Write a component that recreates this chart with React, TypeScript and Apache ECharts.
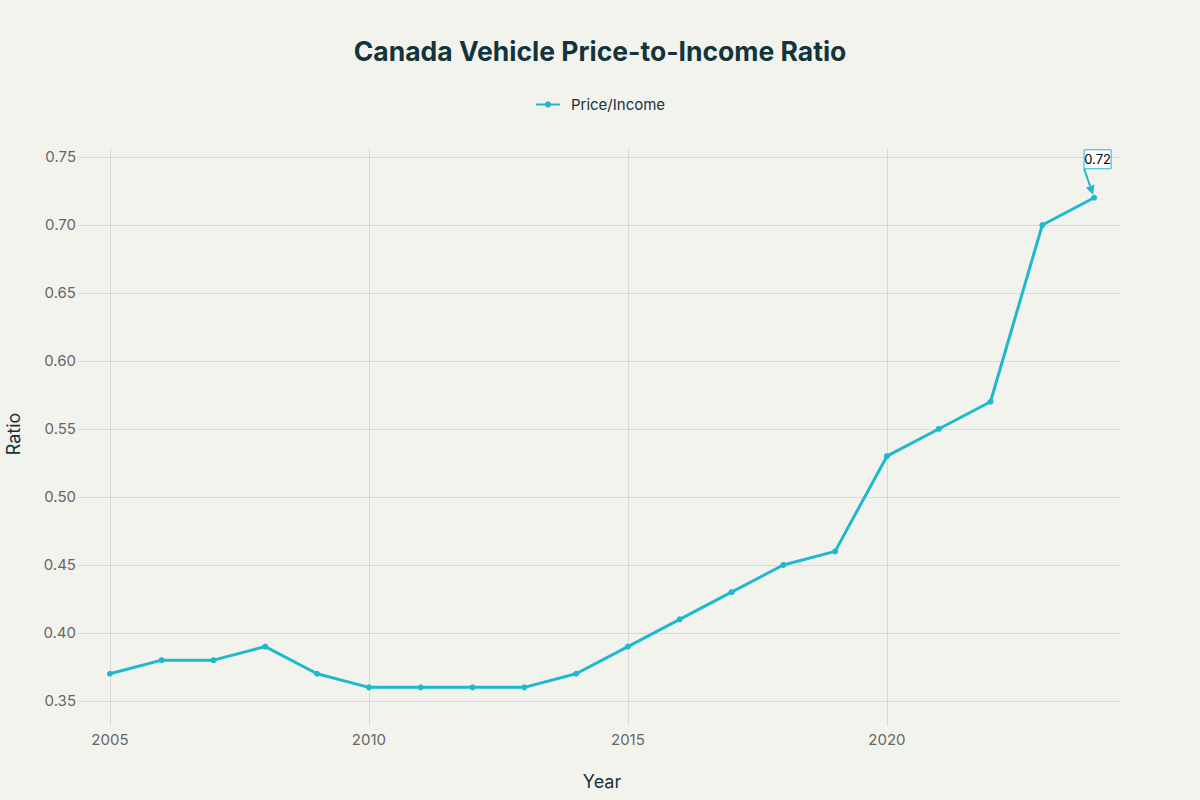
import { useEffect, useRef } from 'react'
import * as echarts from 'echarts'

const years = [
  2005, 2006, 2007, 2008, 2009, 2010, 2011, 2012, 2013, 2014,
  2015, 2016, 2017, 2018, 2019, 2020, 2021, 2022, 2023, 2024,
]
const ratios = [
  0.37, 0.38, 0.38, 0.39, 0.37, 0.36, 0.36, 0.36, 0.36, 0.37,
  0.39, 0.41, 0.43, 0.45, 0.46, 0.53, 0.55, 0.57, 0.7, 0.72,
]
const yearTicks = [2005, 2010, 2015, 2020]
const ratioTicks = [0.35, 0.4, 0.45, 0.5, 0.55, 0.6, 0.65, 0.7, 0.75]

const FONT = 'Inter, "Noto Sans", sans-serif'
const LINE = '#1fb8cd'
const GRID = 'rgba(0, 0, 0, 0.1)'
const DARK = '#13343b'

export default function App() {
  const chartRef = useRef<HTMLDivElement | null>(null)

  useEffect(() => {
    if (!chartRef.current) {
      return
    }

    const chart = echarts.init(chartRef.current, undefined, { renderer: 'svg' })
    chart.setOption({
      animation: false,
      backgroundColor: '#f3f3ee',
      textStyle: { fontFamily: FONT },
      title: {
        text: 'Canada Vehicle Price-to-Income Ratio',
        left: 'center',
        top: 32,
        textStyle: { fontSize: 26.5, fontWeight: 'bold', color: DARK, fontFamily: FONT },
      },
      legend: {
        top: 92,
        left: 'center',
        itemWidth: 24,
        itemHeight: 8,
        itemGap: 10,
        textStyle: { fontSize: 15, color: DARK, fontFamily: FONT, padding: [0, 0, 0, 6] },
        data: ['Price/Income'],
      },
      grid: { top: 148, bottom: 80, left: 84, right: 80, outerBoundsMode: 'none' },
      xAxis: {
        type: 'value',
        min: 2004.5,
        max: 2024.5,
        name: 'Year',
        nameLocation: 'middle',
        nameGap: 52,
        nameTextStyle: { fontSize: 18, color: DARK, fontFamily: FONT },
        axisLine: { show: false },
        axisTick: { show: true, length: 6, lineStyle: { color: GRID }, customValues: yearTicks },
        axisLabel: {
          customValues: yearTicks,
          fontSize: 15,
          color: '#666666',
          margin: 12,
          formatter: (v: number) => String(v),
        },
        splitLine: { show: true, lineStyle: { color: GRID } },
      },
      yAxis: {
        type: 'value',
        min: 0.336,
        max: 0.7566,
        name: 'Ratio',
        nameLocation: 'middle',
        nameGap: 62,
        nameTextStyle: { fontSize: 18, color: DARK, fontFamily: FONT },
        axisLine: { show: false },
        axisTick: { show: true, length: 6, lineStyle: { color: GRID }, customValues: ratioTicks },
        axisLabel: {
          customValues: ratioTicks,
          fontSize: 15,
          color: '#666666',
          margin: 8,
          formatter: (v: number) => v.toFixed(2),
        },
        splitLine: { show: true, lineStyle: { color: GRID } },
      },
      series: [
        {
          name: 'Price/Income',
          type: 'line',
          symbol: 'circle',
          symbolSize: 6,
          lineStyle: { color: LINE, width: 3 },
          itemStyle: { color: LINE },
          data: years.map((y, i) => [y, ratios[i]]),
        },
      ],
    })

    const lastYear = years[years.length - 1]
    const lastVal = ratios[ratios.length - 1]
    const [px, py] = chart.convertToPixel({ xAxisIndex: 0, yAxisIndex: 0 }, [lastYear, lastVal])
    const sx = px - 10
    const sy = py - 29
    const tx = px - 1
    const ty = py - 3
    const ang = Math.atan2(ty - sy, tx - sx)
    const head = 9
    const half = 4.5
    const bx = tx - head * Math.cos(ang)
    const by = ty - head * Math.sin(ang)
    chart.setOption({
      graphic: [
        {
          type: 'line',
          shape: { x1: sx, y1: sy, x2: bx, y2: by },
          style: { stroke: LINE, lineWidth: 2 },
        },
        {
          type: 'polygon',
          shape: {
            points: [
              [tx, ty],
              [bx + half * Math.sin(ang), by - half * Math.cos(ang)],
              [bx - half * Math.sin(ang), by + half * Math.cos(ang)],
            ],
          },
          style: { fill: LINE },
        },
        {
          type: 'rect',
          shape: { x: px - 10, y: py - 48, width: 27, height: 19 },
          style: { fill: '#ffffff', stroke: LINE, lineWidth: 1 },
        },
        {
          type: 'text',
          x: px + 3.5,
          y: py - 38.5,
          style: {
            text: lastVal.toFixed(2),
            fontSize: 13,
            fontFamily: FONT,
            fill: '#000000',
            align: 'center',
            verticalAlign: 'middle',
          },
        },
      ],
    })

    return () => {
      chart.dispose()
    }
  }, [])

  return (
    <div
      ref={chartRef}
      style={{ position: 'fixed', left: 0, top: 0, width: 1200, height: 800 }}
    />
  )
}
